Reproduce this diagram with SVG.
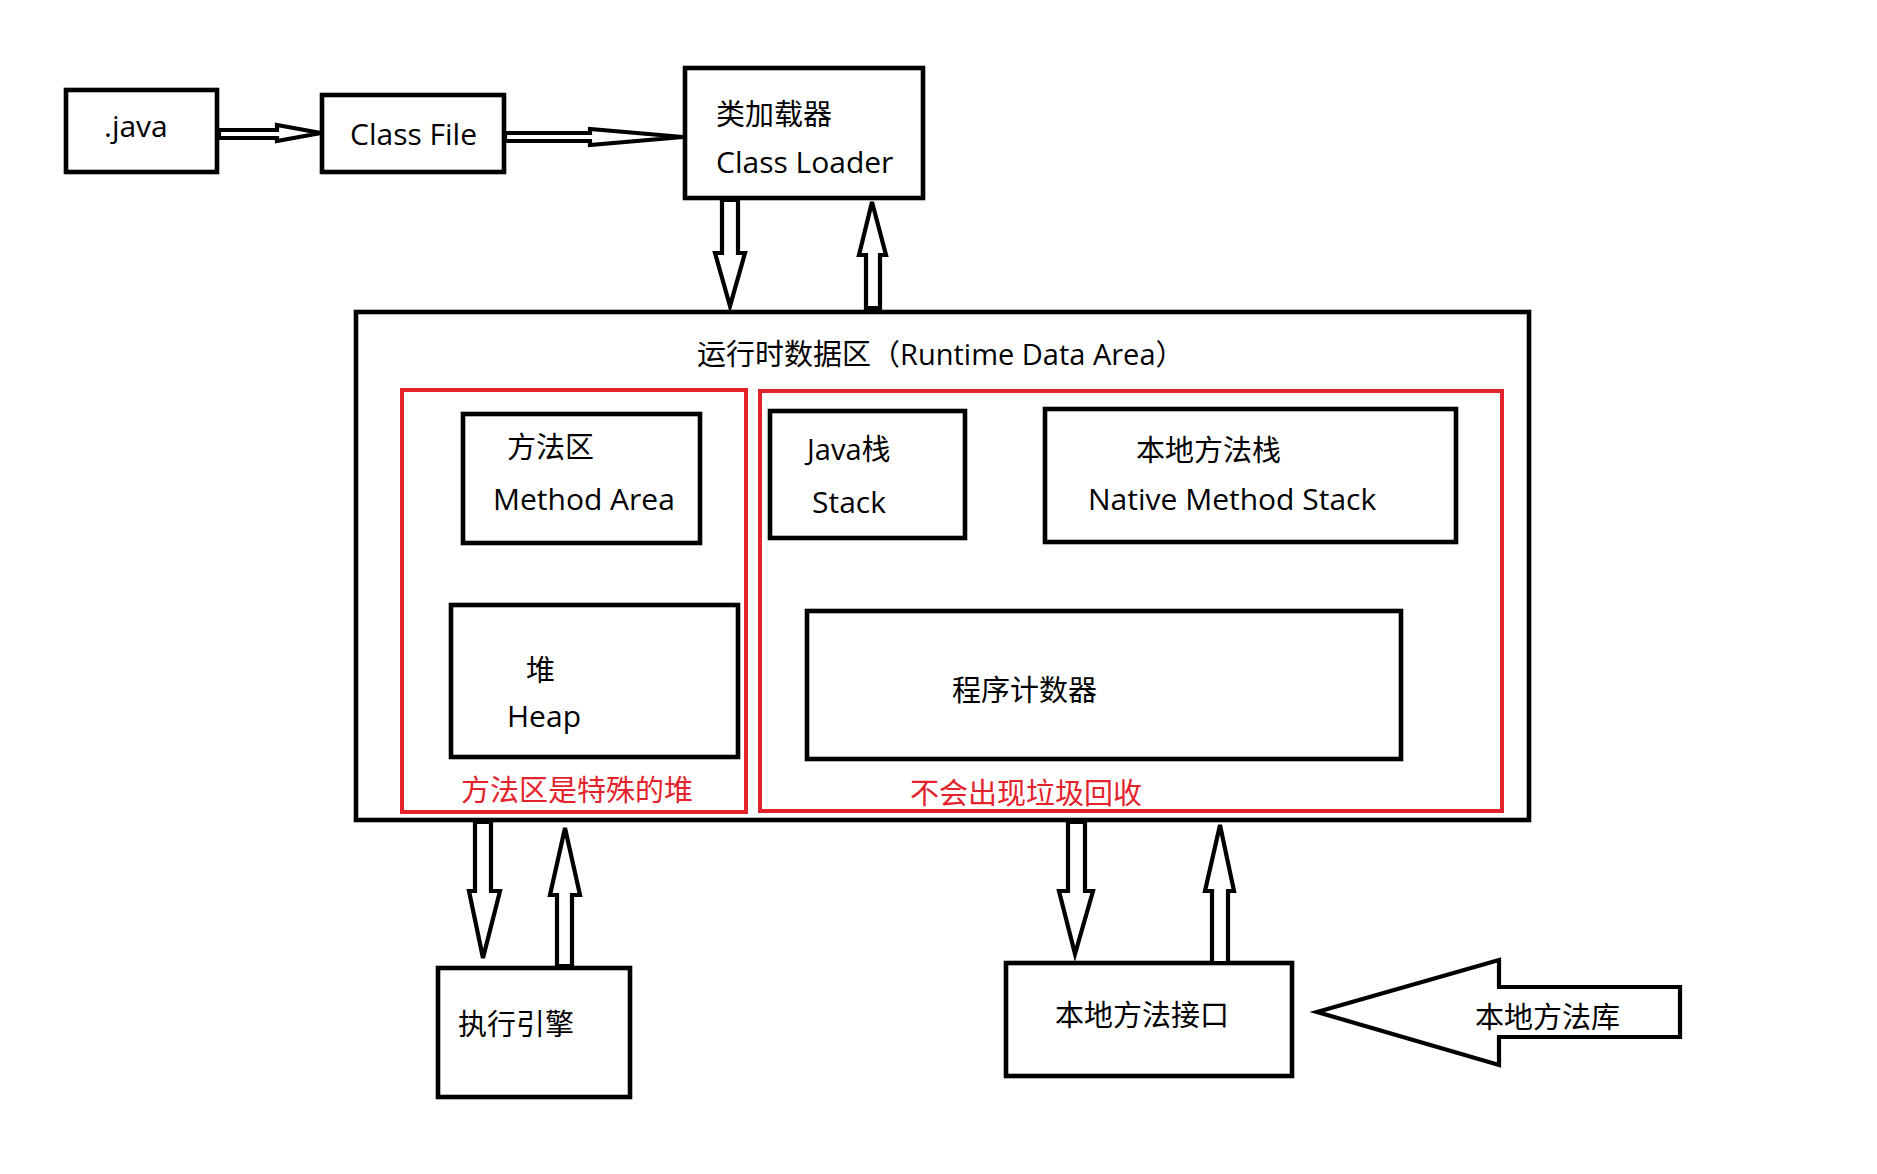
<svg xmlns="http://www.w3.org/2000/svg" width="1877" height="1174" viewBox="0 0 1877 1174">
<style>
.box{fill:#ffffff;stroke:#000000;stroke-width:4.6}
.red{fill:none;stroke:#e4222b;stroke-width:4}
.arrow{fill:#ffffff;stroke:#000000;stroke-width:4.2;stroke-linejoin:miter}
.t{font-family:"Open Sans","Noto Sans CJK SC",sans-serif;font-size:30px;fill:#000000}
.c{font-family:"Open Sans","Noto Sans CJK SC",sans-serif;font-size:29px;fill:#000000}
.rt{font-family:"Open Sans","Noto Sans CJK SC",sans-serif;font-size:29px;fill:#e4222b}
</style>
<rect width="1877" height="1174" fill="#ffffff"/>
<g id="runtime">
<rect class="box" x="356" y="312" width="1173" height="508"/>
<text class="c" x="697" y="365">运行时数据区（Runtime Data Area）</text>
</g>
<g id="group-left">
<rect class="red" x="402" y="390" width="344" height="422"/>
<text class="rt" x="461" y="801">方法区是特殊的堆</text>
</g>
<g id="group-right">
<rect class="red" x="760" y="391" width="742" height="420"/>
<text class="rt" x="910" y="804">不会出现垃圾回收</text>
</g>
<g id="java">
<rect class="box" x="66" y="90" width="151" height="82"/>
<text class="t" x="104" y="137">.java</text>
</g>
<g id="classfile">
<rect class="box" x="322" y="95" width="182" height="77"/>
<text class="t" x="350" y="145">Class File</text>
</g>
<g id="classloader">
<rect class="box" x="685" y="68" width="238" height="130"/>
<text class="c" x="716" y="125">类加载器</text>
<text class="t" x="716" y="173">Class Loader</text>
</g>
<g id="methodarea">
<rect class="box" x="463" y="414" width="237" height="129"/>
<text class="c" x="507" y="458">方法区</text>
<text class="t" x="493" y="510">Method Area</text>
</g>
<g id="javastack">
<rect class="box" x="770" y="411" width="195" height="127"/>
<text class="c" x="807" y="460">Java栈</text>
<text class="t" x="812" y="513">Stack</text>
</g>
<g id="nativestack">
<rect class="box" x="1045" y="409" width="411" height="133"/>
<text class="c" x="1136" y="461">本地方法栈</text>
<text class="t" x="1088" y="510">Native Method Stack</text>
</g>
<g id="heap">
<rect class="box" x="451" y="605" width="287" height="152"/>
<text class="c" x="526" y="681">堆</text>
<text class="t" x="507" y="727">Heap</text>
</g>
<g id="pc">
<rect class="box" x="807" y="611" width="594" height="148"/>
<text class="c" x="952" y="701">程序计数器</text>
</g>
<g id="engine">
<rect class="box" x="438" y="968" width="192" height="129"/>
<text class="c" x="458" y="1035">执行引擎</text>
</g>
<g id="nativeinterface">
<rect class="box" x="1006" y="963" width="286" height="113"/>
<text class="c" x="1055" y="1026">本地方法接口</text>
</g>
<g id="nativelib">
<polygon class="arrow" points="1317,1012 1499,960 1499,987 1680,987 1680,1037 1499,1037 1499,1065"/>
<text class="c" x="1475" y="1028">本地方法库</text>
</g>
<g id="connectors">
<polygon class="arrow" points="219,130 277,130 277,125 321,133 277,141 277,138 219,138"/>
<polygon class="arrow" points="505,133 590,133 590,129 683,137 590,145 590,141 505,141"/>
<polygon class="arrow" points="722,200 738,200 738,253 745,253 730,306 715,253 722,253"/>
<polygon class="arrow" points="872,202 886,255 880,255 880,308 866,308 866,255 859,255"/>
<polygon class="arrow" points="475,822 491,822 491,891 500,891 483,958 469,891 475,891"/>
<polygon class="arrow" points="565,828 580,895 572,895 572,966 557,966 557,895 550,895"/>
<polygon class="arrow" points="1068,822 1085,822 1085,891 1093,891 1075,954 1059,891 1068,891"/>
<polygon class="arrow" points="1220,825 1234,891 1228,891 1228,963 1212,963 1212,891 1205,891"/>
</g>
</svg>
